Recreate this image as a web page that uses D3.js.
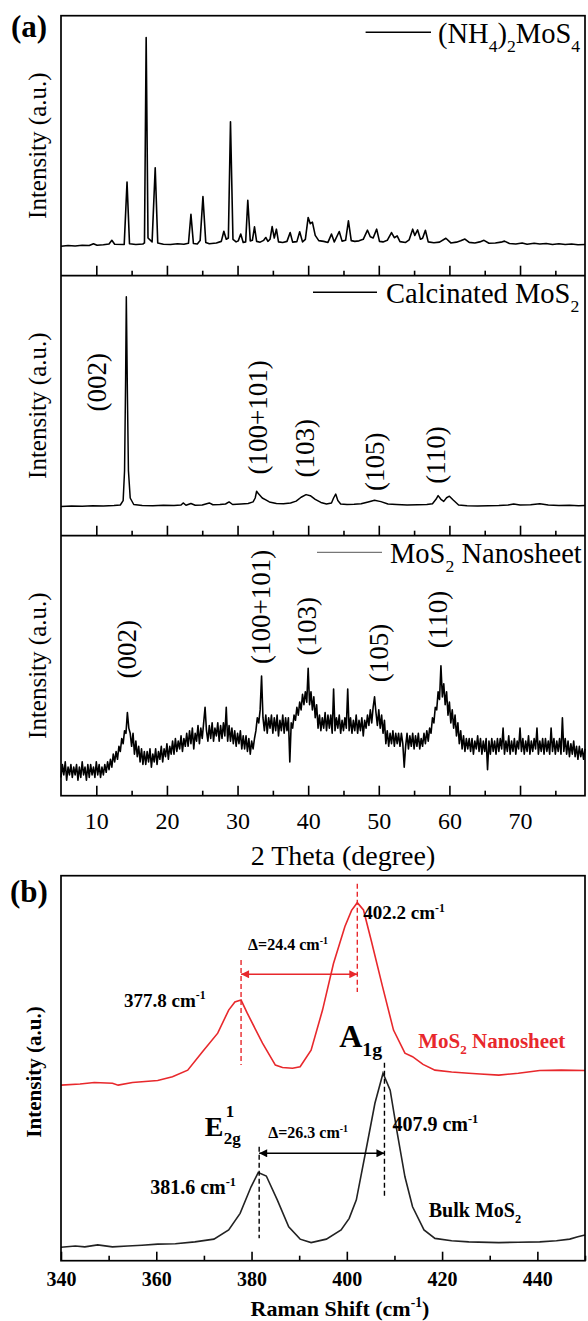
<!DOCTYPE html>
<html>
<head>
<meta charset="utf-8">
<script src="https://cdn.jsdelivr.net/npm/d3@7"></script>
<style>
  body { margin: 0; background: #fff; }
  svg { display: block; font-family: "Liberation Serif", "Times New Roman", serif; }
</style>
</head>
<body>
<div id="chart"></div>
<script>
// ---- data (intensity in arbitrary units, 0-100 per panel) ----

// (a) XRD, (NH4)2MoS4 : [2theta, intensity]
const ammoniumPattern = [
  [5.0,11.3],[6.0,11.6],[7.0,11.4],[8.0,11.7],[9.0,11.6],[9.6,12.3],[10.1,11.7],[11.0,11.9],[11.8,12.2],[12.2,13.6],[12.6,12.1],
  [13.95,12.0],[14.35,36.0],[14.7,12.3],[15.6,12.0],[16.6,12.2],[16.82,12.6],[17.06,91.6],[17.32,14.5],[17.9,13.0],[18.34,41.5],[18.7,12.6],
  [19.5,12.1],[20.5,12.0],[21.5,12.3],[22.4,12.1],[23.05,12.5],[23.4,23.6],[23.75,12.4],[24.3,12.2],[24.7,13.5],[25.1,30.4],[25.5,12.8],
  [26.0,12.3],[27.0,12.6],[27.7,13.2],[28.06,17.1],[28.4,14.0],[28.7,14.5],[29.0,59.2],[29.35,14.0],[29.8,13.0],[30.1,13.4],[30.45,16.0],
  [30.8,12.8],[31.15,13.0],[31.45,29.0],[31.8,13.4],[32.1,13.6],[32.4,18.8],[32.7,13.2],[33.2,12.9],[33.7,13.6],[34.0,14.7],[34.3,13.2],
  [34.6,14.0],[34.9,18.9],[35.2,14.5],[35.5,17.9],[35.8,13.0],[36.4,12.8],[37.0,13.2],[37.45,16.6],[37.8,12.9],[38.4,13.1],[38.8,16.9],
  [39.2,13.0],[39.6,14.0],[40.0,22.4],[40.3,20.0],[40.6,20.6],[41.0,15.5],[41.5,13.5],[42.2,13.2],[42.8,12.8],[43.3,16.0],[43.7,13.0],
  [44.4,17.0],[44.8,13.3],[45.3,13.6],[45.7,21.1],[46.1,13.5],[46.6,13.2],[47.2,13.4],[47.8,14.0],[48.4,17.5],[48.8,15.0],[49.2,14.5],
  [49.7,17.9],[50.1,13.2],[50.6,13.0],[51.2,13.6],[51.8,16.6],[52.2,14.6],[52.6,15.3],[53.0,13.1],[53.8,12.8],[54.3,13.8],[54.8,17.9],
  [55.1,15.5],[55.5,17.6],[55.9,14.0],[56.2,14.4],[56.6,17.5],[57.0,13.0],[57.8,12.7],[58.6,12.9],[59.5,14.4],[60.2,12.6],[61.0,12.9],
  [61.6,13.4],[62.2,14.1],[62.8,12.8],[63.6,12.6],[64.3,13.0],[64.9,13.6],[65.6,12.5],[66.5,12.6],[67.3,12.9],[67.8,13.3],[68.5,12.4],
  [69.4,12.2],[70.3,12.6],[71.0,12.1],[72.0,12.5],[72.8,12.2],[73.7,12.4],[74.6,12.0],[75.5,12.3],[76.4,12.0],[77.3,12.2],[78.2,11.9],[79.2,12.0]
];

// (a) XRD, calcinated MoS2
const calcinedPattern = [
  [5.0,11.2],[6.5,11.4],[8.0,11.3],[9.5,11.5],[11.0,11.4],[12.5,11.6],[13.4,11.8],[13.8,13.5],[14.0,25],[14.15,60],[14.25,91.9],
  [14.4,55],[14.55,25],[14.8,14.5],[15.3,12.0],[16.5,11.6],[18.0,11.5],[19.5,11.7],[21.0,11.6],[22.0,11.8],[22.3,12.6],[22.7,11.7],
  [23.4,12.4],[24.0,11.7],[25.0,11.8],[26.0,12.6],[26.5,11.9],[27.5,12.0],[28.3,12.2],[28.8,13.0],[29.3,12.0],[30.5,12.2],[31.5,12.4],
  [32.2,13.0],[32.5,14.5],[32.7,17.1],[33.0,16.0],[33.5,14.5],[34.0,13.8],[34.5,13.0],[35.5,12.4],[36.5,12.3],[37.5,12.6],[38.3,13.3],
  [39.0,14.8],[39.7,15.8],[40.3,15.4],[41.0,14.0],[41.8,12.8],[42.6,12.2],[43.3,12.6],[43.6,14.5],[43.9,16.0],[44.2,13.5],[44.6,12.2],
  [45.5,12.0],[46.5,12.1],[47.5,12.3],[48.5,13.0],[49.4,13.6],[50.3,13.1],[51.3,12.2],[52.5,12.0],[54.0,11.8],[55.5,11.9],[56.8,12.0],
  [57.6,12.3],[58.1,14.0],[58.4,15.4],[58.8,14.0],[59.2,13.2],[59.6,14.6],[60.0,15.2],[60.5,13.8],[61.3,11.8],[62.5,11.5],[64.0,11.4],
  [65.5,11.5],[67.0,11.6],[68.3,11.8],[69.1,12.2],[70.0,11.8],[71.5,11.9],[72.8,12.3],[74.0,11.8],[75.5,11.6],[77.0,11.7],[78.3,11.5],[79.2,11.6]
];

// (a) XRD, MoS2 nanosheet, one reading every 0.2 degree from 5 degree (one row = 2 degree)
const nanoStart = 5, nanoStep = 0.2;
const nanoIntensity = [
  7, 12, 8, 13, 6, 11, 8, 12, 7, 11,
  8, 12, 6, 11, 7, 13, 8, 11, 6, 12,
  7, 12, 8, 11, 7, 13, 8, 12, 7, 11,
  8, 12, 9, 13, 10, 14, 11, 16, 13, 17,
  14, 19, 17, 22, 20, 25, 24, 32, 26, 24,
  19, 24, 16, 21, 15, 19, 13, 18, 12, 17,
  12, 17, 13, 18, 11, 16, 13, 18, 12, 17,
  14, 19, 13, 18, 15, 20, 14, 19, 16, 21,
  16, 22, 17, 21, 18, 23, 17, 22, 19, 24,
  19, 25, 20, 26, 18, 24, 21, 27, 20, 26,
  22, 28, 34, 25, 21, 27, 22, 28, 21, 26,
  23, 28, 21, 27, 22, 28, 23, 34, 21, 27,
  21, 26, 20, 25, 19, 24, 20, 25, 18, 23,
  18, 23, 17, 22, 16, 21, 18, 22, 25, 30,
  28, 33, 46, 30, 25, 31, 24, 30, 26, 31,
  24, 30, 25, 31, 23, 29, 25, 31, 24, 30,
  25, 30, 13, 28, 26, 31, 29, 34, 31, 36,
  33, 39, 35, 40, 36, 49, 35, 40, 33, 38,
  30, 35, 26, 31, 25, 30, 26, 32, 25, 31,
  26, 31, 24, 41, 25, 30, 26, 31, 24, 29,
  25, 30, 26, 41, 25, 30, 24, 29, 25, 31,
  24, 29, 25, 30, 23, 29, 26, 31, 27, 33,
  28, 34, 38, 32, 27, 33, 26, 31, 24, 29,
  20, 25, 19, 24, 20, 25, 19, 24, 20, 24,
  19, 24, 20, 11, 19, 24, 18, 23, 19, 24,
  18, 23, 19, 24, 18, 22, 19, 24, 20, 25,
  21, 26, 24, 30, 28, 34, 33, 40, 37, 50,
  38, 43, 35, 40, 31, 36, 28, 33, 26, 31,
  23, 28, 20, 25, 18, 23, 17, 22, 18, 22,
  17, 22, 16, 21, 18, 23, 17, 22, 16, 21,
  17, 22, 10, 21, 16, 22, 17, 21, 16, 22,
  17, 22, 18, 26, 16, 21, 17, 23, 16, 21,
  17, 22, 16, 21, 18, 26, 17, 22, 16, 21,
  17, 23, 16, 21, 17, 22, 18, 26, 16, 21,
  17, 22, 16, 22, 17, 21, 16, 26, 17, 22,
  16, 21, 17, 22, 16, 30, 17, 22, 16, 21,
  15, 20, 16, 21, 15, 19, 14, 19, 15, 18,
  14, 18
];

const xrdMajorTicks = [10, 20, 30, 40, 50, 60, 70];
const xrdMinorTicks = [15, 25, 35, 45, 55, 65, 75];

// reflections labelled in the two MoS2 panels: [2theta, label, label centre (a.u.)]
const calcinedPeaks = [[10.1, "(002)", 59], [32.9, "(100+101)", 45.5], [39.6, "(103)", 33.6], [49.4, "(105)", 28.4], [58.1, "(110)", 31]];
const nanoPeaks = [[14.35, "(002)", 56.3], [33.3, "(100+101)", 72.6], [39.8, "(103)", 65.2], [50.0, "(105)", 54.9], [58.4, "(110)", 67.8]];

// (b) Raman : [shift cm-1, intensity]
const nanosheetRaman = [
  [340,45.6],[344,45.9],[347,46.3],[350.8,46.1],[352,45.6],[355,46.3],[360.3,46.8],[363.4,47.8],[366.6,49.5],[369.7,54.3],
  [372.9,59.1],[375.2,65.1],[376.5,67.2],[377.8,67.7],[379.1,64.3],[382.3,56.5],[385,50.8],[386.5,50.2],[388.6,50.0],[390.2,50.4],
  [392.5,54.7],[394.9,65.1],[397.2,77.2],[399.6,86.8],[401,91],[402.2,93.0],[403.5,91.1],[405.1,83.3],[407.5,71.2],[409.8,59.9],
  [412.2,53.9],[413.8,53.0],[416,51],[418.5,49.5],[422,49.0],[425.6,48.7],[428,48.5],[431.9,48.2],[436,48.7],[440.5,49.4],[445,49.5],[450,49.4]
];
const bulkRaman = [
  [340,3.5],[343,3.8],[345,3.6],[347.7,4.1],[350.8,3.6],[354,3.8],[357,4.0],[360.3,4.3],[364,4.4],[368.1,4.9],[372.1,5.6],
  [375.2,8.0],[377.6,12.3],[379.9,19.2],[381.4,22.9],[383.1,22.0],[385.4,15.8],[387.8,8.8],[390.2,5.6],[392.5,4.7],[395.7,5.6],
  [398.8,8.0],[400.5,11],[402.0,15.8],[404.3,30.5],[405.9,40.9],[407.6,48.7],[409.1,44.3],[410.6,33.1],[412.2,21.8],[413.8,14.0],
  [416.2,8.0],[418.5,5.8],[422,5.2],[425.6,4.9],[431.9,4.7],[436,4.8],[440.5,4.9],[444,5.2],[446.8,5.6],[448.5,6.2],[450,6.7]
];
const ramanMajorTicks = [340, 360, 380, 400, 420, 440];
const ramanMinorTicks = [350, 370, 390, 410, 430, 450];

// ---- drawing ----
const width = 588, height = 1321;
const red = "#e8282c";
const svg = d3.select("#chart").append("svg").attr("width", width).attr("height", height);

const left = 61, right = 585;
const aTop = 15.7, subH = 260;

// text with sub/superscripts: parts are strings or [text, "sub"|"sup"]
function richText(sel, parts, size) {
  let shift = 0;
  parts.forEach(function(p) {
    const txt = typeof p === "string" ? p : p[0];
    const mode = typeof p === "string" ? "n" : p[1];
    const target = mode === "sub" ? size * 0.3 : mode === "sup" ? -size * 0.4 : 0;
    sel.append("tspan")
      .attr("dy", target - shift)
      .attr("font-size", mode === "n" ? size : size * 0.62)
      .text(txt);
    shift = target;
  });
  return sel;
}

const x = d3.scaleLinear().domain([5, 79.2]).range([left, right]);

const subPanels = [
  { data: ammoniumPattern, width: 1.6, legend: ["(NH", ["4", "sub"], ")", ["2", "sub"], "MoS", ["4", "sub"]], lx: [365.6, 431], tx: 438, peaks: [] },
  { data: calcinedPattern, width: 1.5, legend: ["Calcinated MoS", ["2", "sub"]], lx: [313, 377], tx: 386, peaks: calcinedPeaks },
  { data: nanoIntensity.map(function(v, i) { return [nanoStart + i * nanoStep, v]; }), width: 1.6, legend: ["MoS", ["2", "sub"], " Nanosheet"], lx: [317, 382], tx: 390, peaks: nanoPeaks, thinLegend: true }
];

subPanels.forEach(function(p, i) {
  const top = aTop + i * subH;
  const y = d3.scaleLinear().domain([0, 100]).range([top + subH, top]);
  const g = svg.append("g");

  const line = d3.line().x(function(d) { return x(d[0]); }).y(function(d) { return y(d[1]); });
  g.append("path")
    .datum(p.data)
    .attr("d", line)
    .attr("fill", "none")
    .attr("stroke", "#000")
    .attr("stroke-width", p.width)
    .attr("stroke-linejoin", "round");

  // inward ticks along the bottom of each sub panel
  const major = d3.axisBottom(x).tickValues(xrdMajorTicks).tickSize(-10).tickPadding(16)
    .tickFormat(i === 2 ? d3.format("d") : "");
  const minor = d3.axisBottom(x).tickValues(xrdMinorTicks).tickSize(-5).tickFormat("");
  [major, minor].forEach(function(ax) {
    const a = g.append("g").attr("transform", `translate(0,${top + subH})`).call(ax);
    a.select(".domain").remove();
    a.selectAll("line").attr("stroke", "#000").attr("stroke-width", 1.6);
    a.selectAll("text").attr("font-size", 24).attr("font-family", "Liberation Serif").attr("fill", "#000");
  });

  g.append("text")
    .attr("transform", `translate(37,${top + subH / 2}) rotate(-90)`)
    .attr("text-anchor", "middle")
    .attr("dominant-baseline", "central")
    .attr("font-size", 25)
    .text("Intensity (a.u.)");

  // legend
  g.append("line")
    .attr("x1", p.lx[0]).attr("x2", p.lx[1])
    .attr("y1", top + 16.6).attr("y2", top + 16.6)
    .attr("stroke", p.thinLegend ? "#555" : "#000")
    .attr("stroke-width", p.thinLegend ? 1 : 1.6);
  richText(g.append("text").attr("x", p.tx).attr("y", top + 27.5), p.legend, 28.5);

  // reflection labels
  p.peaks.forEach(function(pk) {
    g.append("text")
      .attr("transform", `translate(${x(pk[0])},${y(pk[2])}) rotate(-90)`)
      .attr("text-anchor", "middle")
      .attr("dominant-baseline", "central")
      .attr("font-size", 27)
      .text(pk[1]);
  });
});

svg.append("rect")
  .attr("x", left).attr("y", aTop).attr("width", right - left).attr("height", subH * 3)
  .attr("fill", "none").attr("stroke", "#000").attr("stroke-width", 1.7);
[1, 2].forEach(function(k) {
  svg.append("line").attr("x1", left).attr("x2", right)
    .attr("y1", aTop + k * subH).attr("y2", aTop + k * subH)
    .attr("stroke", "#000").attr("stroke-width", 1.7);
});

svg.append("text").attr("x", 11).attr("y", 37).attr("font-size", 31).attr("font-weight", "bold").text("(a)");
svg.append("text").attr("x", 343).attr("y", 865).attr("text-anchor", "middle").attr("font-size", 28).text("2 Theta (degree)");

// ---- (b) Raman ----
const bTop = 875.7, bBottom = 1260.7;
const xr = d3.scaleLinear().domain([340, 450]).range([left, right]);
const yr = d3.scaleLinear().domain([0, 100]).range([bBottom, bTop]);
const gb = svg.append("g");

const defs = svg.append("defs");
[["arrRed", red], ["arrBlack", "#000"]].forEach(function(m) {
  defs.append("marker")
    .attr("id", m[0]).attr("viewBox", "0 0 10 10").attr("refX", 10).attr("refY", 5)
    .attr("markerWidth", 9).attr("markerHeight", 8).attr("markerUnits", "userSpaceOnUse")
    .attr("orient", "auto-start-reverse")
    .append("path").attr("d", "M0,0L10,5L0,10Z").attr("fill", m[1]);
});

const rline = d3.line().x(function(d) { return xr(d[0]); }).y(function(d) { return yr(d[1]); });
gb.append("path").datum(nanosheetRaman).attr("d", rline).attr("fill", "none").attr("stroke", red).attr("stroke-width", 1.6);
gb.append("path").datum(bulkRaman).attr("d", rline).attr("fill", "none").attr("stroke", "#222").attr("stroke-width", 1.6);

// dashed peak markers [shift, from, to, colour]
const ramanMarkers = [[377.8, 78.1, 50.8, red], [402.2, 97.9, 69.8, red], [381.6, 29.6, 5.8, "#000"], [407.9, 51.4, 16.6, "#000"]];
ramanMarkers.forEach(function(m) {
  gb.append("line")
    .attr("x1", xr(m[0])).attr("x2", xr(m[0]))
    .attr("y1", yr(m[1])).attr("y2", yr(m[2]))
    .attr("stroke", m[3]).attr("stroke-width", 1.4).attr("stroke-dasharray", "5,3");
});
gb.append("line")
  .attr("x1", xr(377.8)).attr("x2", xr(402.2)).attr("y1", yr(74.4)).attr("y2", yr(74.4))
  .attr("stroke", red).attr("stroke-width", 1.4)
  .attr("marker-start", "url(#arrRed)").attr("marker-end", "url(#arrRed)");
gb.append("line")
  .attr("x1", xr(381.6)).attr("x2", xr(407.9)).attr("y1", yr(27.9)).attr("y2", yr(27.9))
  .attr("stroke", "#000").attr("stroke-width", 1.4)
  .attr("marker-start", "url(#arrBlack)").attr("marker-end", "url(#arrBlack)");

function boldLabel(xp, yp, parts, size, color) {
  return richText(gb.append("text").attr("x", xp).attr("y", yp)
    .attr("font-weight", "bold").attr("fill", color || "#000"), parts, size);
}
const cm = [" cm", ["-1", "sup"]];
boldLabel(xr(402.2) + 6, yr(88.7), ["402.2"].concat(cm), 19);
boldLabel(xr(377.8) - 117, yr(65.9), ["377.8"].concat(cm), 19);
boldLabel(xr(377.8) + 7, yr(80.6), ["\u0394=24.4"].concat(cm), 16);
boldLabel(xr(407.9) + 8, yr(33.7), ["407.9"].concat(cm), 20);
boldLabel(xr(381.6) - 109, yr(17.3), ["381.6"].concat(cm), 20);
boldLabel(xr(381.6) + 9, yr(31.8), ["\u0394=26.3"].concat(cm), 16);
boldLabel(xr(398.4), yr(55.6), ["A", ["1g", "sub"]], 32);
boldLabel(xr(415), yr(55.2), ["MoS", ["2", "sub"], " Nanosheet"], 21, red);
boldLabel(xr(417.2), yr(11.4), ["Bulk MoS", ["2", "sub"]], 20);
// E^1_2g : superscript and subscript stacked
gb.append("text").attr("x", xr(370.2)).attr("y", yr(32.3)).attr("font-weight", "bold").attr("font-size", 28).text("E");
gb.append("text").attr("x", xr(370.2) + 21).attr("y", yr(37.4)).attr("font-weight", "bold").attr("font-size", 17).text("1");
gb.append("text").attr("x", xr(370.2) + 19).attr("y", yr(30.4)).attr("font-weight", "bold").attr("font-size", 17).text("2g");

const rMajor = d3.axisBottom(xr).tickValues(ramanMajorTicks).tickSize(-9).tickPadding(11).tickFormat(d3.format("d"));
const rMinor = d3.axisBottom(xr).tickValues(ramanMinorTicks).tickSize(-5).tickFormat("");
[rMajor, rMinor].forEach(function(ax) {
  const a = gb.append("g").attr("transform", `translate(0,${bBottom})`).call(ax);
  a.select(".domain").remove();
  a.selectAll("line").attr("stroke", "#000").attr("stroke-width", 1.6);
  a.selectAll("text").attr("font-size", 20).attr("font-weight", "bold").attr("font-family", "Liberation Serif").attr("fill", "#000");
});

gb.append("rect")
  .attr("x", left).attr("y", bTop).attr("width", right - left).attr("height", bBottom - bTop)
  .attr("fill", "none").attr("stroke", "#000").attr("stroke-width", 1.7);

gb.append("text")
  .attr("transform", `translate(34,1072) rotate(-90)`)
  .attr("text-anchor", "middle").attr("dominant-baseline", "central")
  .attr("font-size", 21).attr("font-weight", "bold")
  .text("Intensity (a.u.)");

richText(svg.append("text").attr("x", 340).attr("y", 1316).attr("text-anchor", "middle").attr("font-weight", "bold"),
  ["Raman Shift (cm", ["-1", "sup"], ")"], 22);
svg.append("text").attr("x", 10).attr("y", 902).attr("font-size", 31).attr("font-weight", "bold").text("(b)");
</script>
</body>
</html>
